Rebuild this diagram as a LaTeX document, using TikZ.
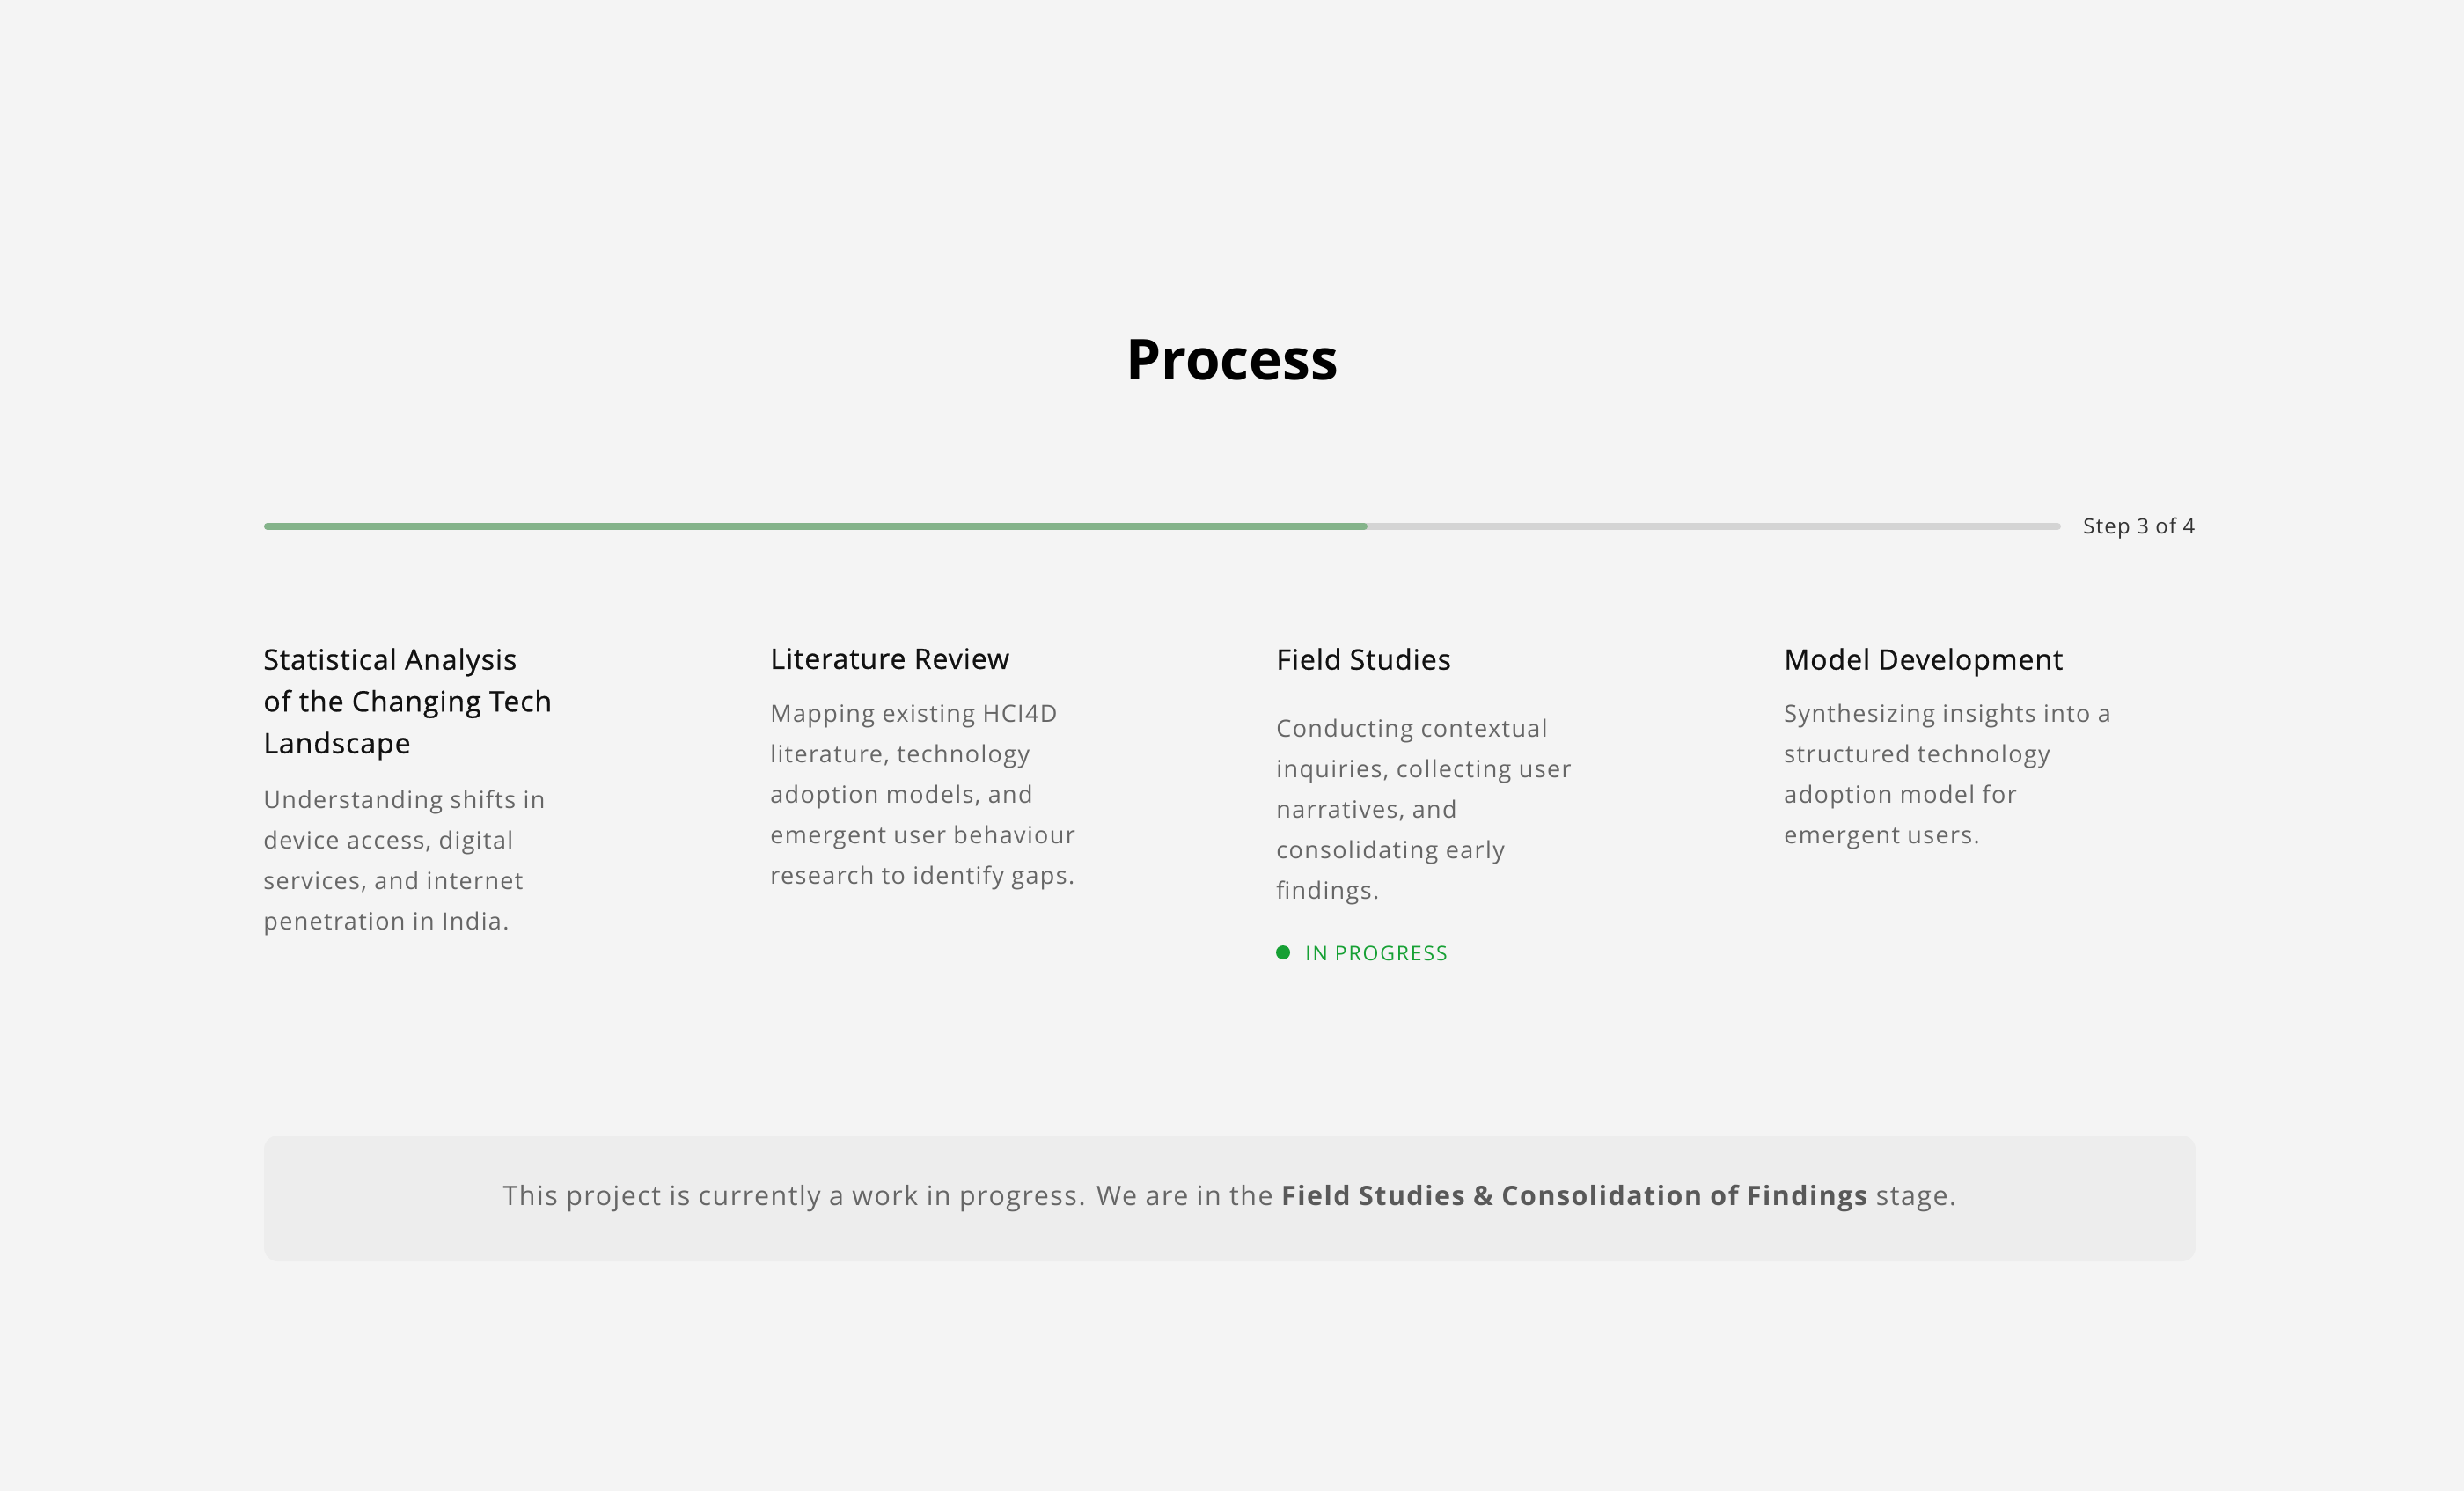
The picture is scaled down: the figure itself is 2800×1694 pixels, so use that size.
\documentclass[tikz,border=0pt]{standalone}
\usepackage{fontspec}
\setmainfont{Open Sans}
\definecolor{pagebg}{HTML}{F4F4F4}
\definecolor{trackgray}{HTML}{D4D4D4}
\definecolor{donegreen}{HTML}{84B38A}
\definecolor{livegreen}{HTML}{16A034}
\definecolor{headcol}{HTML}{111111}
\definecolor{bodycol}{HTML}{666666}
\definecolor{stepcol}{HTML}{333333}
\definecolor{notebg}{HTML}{EDEDED}
\begin{document}
\begin{tikzpicture}[x=0.5pt,y=-0.5pt,
  heading/.style={anchor=north west,inner sep=0,align=left,text=headcol,
    font=\fontsize{16}{23.75}\selectfont\addfontfeatures{LetterSpace=3,FakeBold=0.7}},
  blurb/.style={anchor=north west,inner sep=0,align=left,text=bodycol,
    font=\fontsize{13.5}{23}\selectfont\addfontfeatures{LetterSpace=5}}]
\fill[pagebg] (0,0) rectangle (2800,1694);
\useasboundingbox (0,0) rectangle (2800,1694);
\node[anchor=base,inner sep=0,font=\fontsize{32}{36}\bfseries] (title) at (1400,431) {Process};
% progress bar
\coordinate (barstart) at (304,598);
\coordinate (barfill) at (1550,598);
\coordinate (barend) at (2338,598);
\draw[trackgray,line width=4pt,line cap=round] (barstart) -- (barend);
\draw[donegreen,line width=4pt,line cap=round] (barstart) -- (barfill);
\node[anchor=base west,inner sep=0,text=stepcol,font=\fontsize{12}{14}\selectfont\addfontfeatures{LetterSpace=5}] (steplabel) at (2367,606) {Step 3 of 4};
% the four stages
\node[heading] (stageA) at (299,736) {Statistical Analysis\\of the Changing Tech\\Landscape};
\node[blurb] (textA) at (299,897) {Understanding shifts in\\device access, digital\\services, and internet\\penetration in India.};
\node[heading] (stageB) at (875,736) {Literature Review};
\node[blurb] (textB) at (875,800) {Mapping existing HCI4D\\literature, technology\\adoption models, and\\emergent user behaviour\\research to identify gaps.};
\node[heading] (stageC) at (1450,736) {Field Studies};
\node[blurb] (textC) at (1450,817) {Conducting contextual\\inquiries, collecting user\\narratives, and\\consolidating early\\findings.};
\node[heading] (stageD) at (2027,736) {Model Development};
\node[blurb] (textD) at (2027,800) {Synthesizing insights into a\\structured technology\\adoption model for\\emergent users.};
% status of the current stage
\fill[livegreen] (1458,1082) circle [radius=8];
\node[anchor=base west,inner sep=0,text=livegreen,font=\fontsize{11.5}{13}\selectfont\addfontfeatures{LetterSpace=8}] (status) at (1483,1091) {IN PROGRESS};
% note box
\fill[notebg,rounded corners=8pt] (300,1290) rectangle (2495,1433);
\node[inner sep=0,text=bodycol,font=\fontsize{15.2}{18}\selectfont\addfontfeatures{LetterSpace=5}] (note) at (1397.5,1361) {This project is currently a work in progress. We are in the \textcolor{black!65}{\bfseries Field Studies \& Consolidation of Findings} stage.};
\end{tikzpicture}
\end{document}
